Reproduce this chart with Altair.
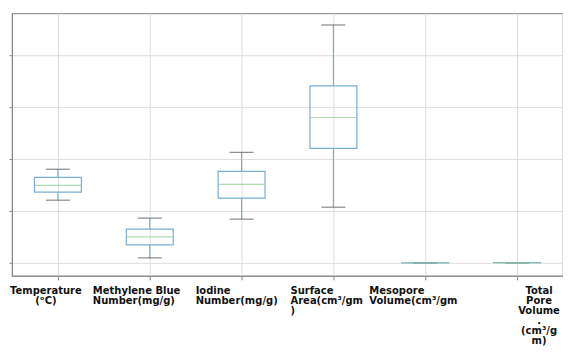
import altair as alt
import pandas as pd

categories = [
    "Temperature|(ᵒC)",
    "Methylene Blue|Number(mg/g)",
    "Iodine|Number(mg/g)",
    "Surface|Area(cm³/gm|)",
    "Mesopore|Volume(cm³/gm",
    "Total|Pore|Volume|.|(cm³/g|m)",
]
whisker_low = [241, 19, 168, 214, 0.05, 0.1]
q1 = [272, 69, 249, 440, 0.15, 0.25]
median = [298, 100, 302, 559, 0.2, 0.3]
q3 = [329, 130, 352, 681, 0.25, 0.4]
whisker_high = [360, 172, 425, 915, 0.4, 0.6]

df = pd.DataFrame({
    "cat": categories,
    "lo": whisker_low,
    "q1": q1,
    "med": median,
    "q3": q3,
    "hi": whisker_high,
})

BLUE = "#7aaed4"
GREEN = "#8fcf8f"
CAP = "#555555"

xaxis = alt.Axis(
    title=None,
    labelExpr="split(datum.label, '|')",
    labelAngle=0,
    labelFont="DejaVu Sans",
    labelFontWeight="bold",
    labelFontSize=10,
    labelLineHeight=10,
    labelColor="#111111",
    labelPadding=6,
    labelLimit=200,
    labelBaseline="top",
    labelAlign={
        "condition": [
            {"test": "datum.value == 'Temperature|(ᵒC)'", "value": "center"},
            {"test": "indexof(datum.value, 'Total') == 0", "value": "center"},
        ],
        "value": "left",
    },
    labelOffset={
        "condition": [
            {"test": "datum.value == 'Temperature|(ᵒC)'", "value": -12},
            {"test": "indexof(datum.value, 'Methylene') == 0", "value": -57},
            {"test": "indexof(datum.value, 'Iodine') == 0", "value": -46},
            {"test": "indexof(datum.value, 'Surface') == 0", "value": -43},
            {"test": "indexof(datum.value, 'Mesopore') == 0", "value": -56},
        ],
        "value": 22,
    },
    bandPosition=0.5,
    tickBand="center",
    tickSize=4,
    tickColor="#888888",
    domainColor="#888888",
    grid=True,
    gridColor="#dddddd",
)

yaxis = alt.Axis(
    title=None,
    labels=False,
    values=[0, 200, 400, 600, 800],
    tickSize=3,
    tickColor="#888888",
    domainColor="#888888",
    grid=True,
    gridColor="#dddddd",
)

x = alt.X("cat:N", sort=categories, axis=xaxis,
          scale=alt.Scale(paddingInner=0, paddingOuter=0))
yscale = alt.Scale(domain=[-50, 960], nice=False, zero=False)

base = alt.Chart(df)

box = base.mark_bar(size=47, fill="white", fillOpacity=0, stroke=BLUE, strokeWidth=1.2).encode(
    x=x,
    y=alt.Y("q1:Q", scale=yscale, axis=yaxis),
    y2="q3:Q",
)
wlow = base.mark_rule(color=BLUE, strokeWidth=1.2).encode(x=x, y=alt.Y("lo:Q", scale=yscale, axis=yaxis), y2="q1:Q")
whigh = base.mark_rule(color=BLUE, strokeWidth=1.2).encode(x=x, y=alt.Y("q3:Q", scale=yscale, axis=yaxis), y2="hi:Q")
cap_lo = base.mark_tick(size=24, color=CAP, thickness=1.2).encode(x=x, y=alt.Y("lo:Q", scale=yscale, axis=yaxis))
cap_hi = base.mark_tick(size=24, color=CAP, thickness=1.2).encode(x=x, y=alt.Y("hi:Q", scale=yscale, axis=yaxis))
med = base.mark_tick(size=46, color=GREEN, thickness=1.2).encode(x=x, y=alt.Y("med:Q", scale=yscale, axis=yaxis))

chart = alt.layer(wlow, whigh, cap_lo, cap_hi, box, med).properties(
    width=552,
    height=263,
    padding={"top": 5, "left": 0, "right": 0, "bottom": 0},
    background="white",
).configure_view(stroke="#999999", strokeWidth=1.2)

chart.save("out.html", embed_options={"renderer": "svg", "actions": False})
